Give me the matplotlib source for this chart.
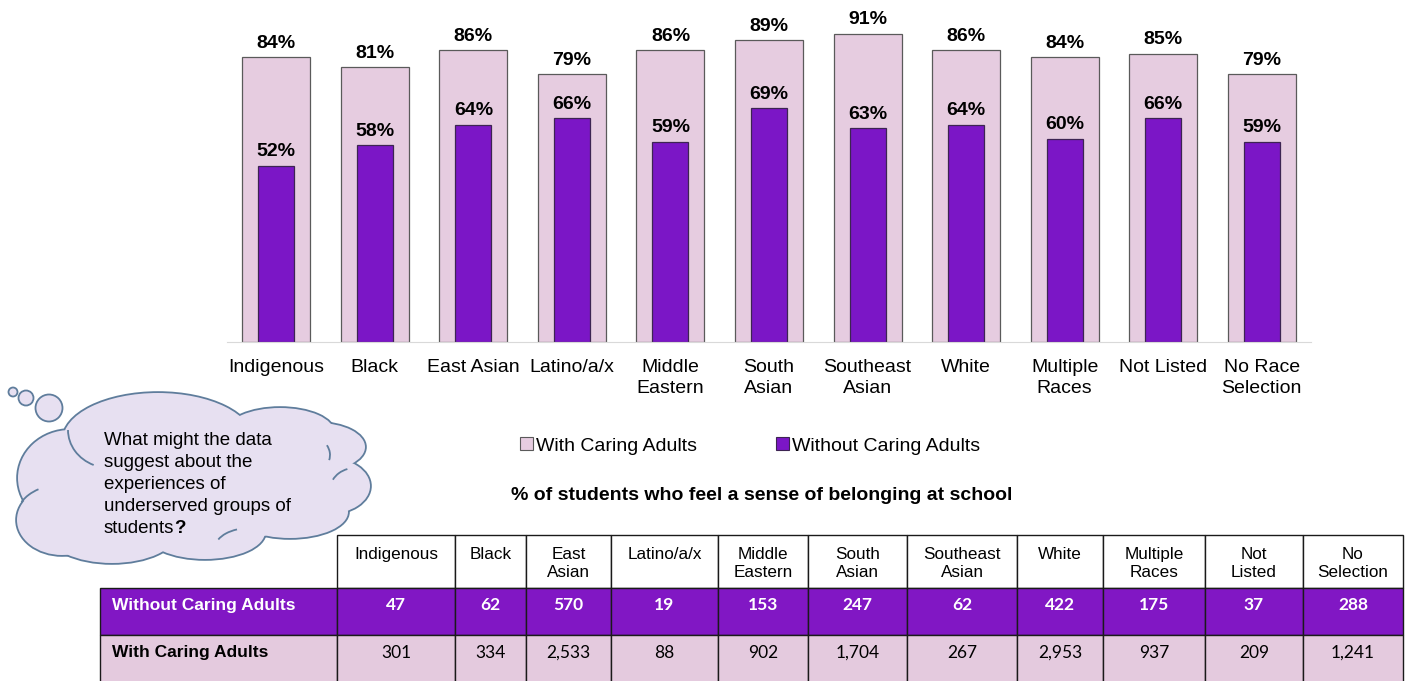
import matplotlib.pyplot as plt
import matplotlib.transforms as mtransforms
from matplotlib.patches import Ellipse, Circle, Arc, Patch

plt.rcParams['font.family'] = ['Liberation Sans', 'DejaVu Sans']

# share of students who feel they belong, by group (%)
groups = ['Indigenous', 'Black', 'East Asian', 'Latino/a/x', 'Middle\nEastern', 'South\nAsian',
          'Southeast\nAsian', 'White', 'Multiple\nRaces', 'Not Listed', 'No Race\nSelection']
with_adults = [84, 81, 86, 79, 86, 89, 91, 86, 84, 85, 79]
without_adults = [52, 58, 64, 66, 59, 69, 63, 64, 60, 66, 59]
legend_names = ['With Caring Adults', 'Without Caring Adults']
title = '% of students who feel a sense of belonging at school'

# respondent counts
table_groups = ['Indigenous', 'Black', 'East\nAsian', 'Latino/a/x', 'Middle\nEastern', 'South\nAsian',
                'Southeast\nAsian', 'White', 'Multiple\nRaces', 'Not\nListed', 'No\nSelection']
count_without = [47, 62, 570, 19, 153, 247, 62, 422, 175, 37, 288]
count_with = [301, 334, 2533, 88, 902, 1704, 267, 2953, 937, 209, 1241]
row_names = ['Without Caring Adults', 'With Caring Adults']

question = ['What might the data', 'suggest about the', 'experiences of',
            'underserved groups of', 'students']

PINK = '#E6CCE0'
PURPLE = '#7B16C6'
ROW_PURPLE = '#8117C4'
ROW_PINK = '#E4CADE'
CLOUD_FILL = '#E7E0F1'
CLOUD_EDGE = '#5F7D9C'

W, H = 1411, 681
fig = plt.figure(figsize=(W / 100, H / 100), dpi=100)

# pixel-unit layer for the thought bubble
bg = fig.add_axes([0, 0, 1, 1])
bg.set_xlim(0, W)
bg.set_ylim(H, 0)
bg.axis('off')

lobes = [(70, 478, 104, 96), (62, 520, 90, 70), (112, 532, 130, 62), (205, 532, 120, 54),
         (290, 512, 116, 52), (328, 486, 84, 56), (318, 447, 94, 48), (280, 432, 108, 48),
         (158, 440, 190, 94), (190, 485, 280, 120)]
folds = [((110, 430), 84, 76, 115, 180), ((355, 490), 50, 44, 205, 250),
         ((300, 455), 60, 44, 340, 10), ((250, 548), 70, 40, 195, 235),
         ((60, 520), 90, 70, 205, 235)]
bubbles = [(13, 392, 4.5), (26, 398, 7.5), (49, 408, 13.5)]

for cx, cy, w, h in lobes:
    bg.add_patch(Ellipse((cx, cy), w, h, fc=CLOUD_FILL, ec=CLOUD_EDGE, lw=2.6, zorder=1))
    bg.add_patch(Ellipse((cx, cy), w, h, fc=CLOUD_FILL, ec='none', zorder=2))
for c, w, h, t1, t2 in folds:
    bg.add_patch(Arc(c, w, h, theta1=t1, theta2=t2, color=CLOUD_EDGE, lw=1.3, zorder=3))
for cx, cy, r in bubbles:
    bg.add_patch(Circle((cx, cy), r, fc=CLOUD_FILL, ec=CLOUD_EDGE, lw=1.3, zorder=3))

last = None
for i, line in enumerate(question):
    last = bg.text(104, 445 + 22 * i, line, fontsize=13.5, va='baseline', ha='left', zorder=4)
bg.annotate('?', xy=(1, 0), xycoords=last, va='bottom', ha='left', fontsize=13.5,
            fontweight='bold', zorder=4)

# bar chart
ax = fig.add_axes([227 / W, 339 / H, 1084 / W, 339 / H])
ax.patch.set_alpha(0)
x = list(range(len(groups)))
ax.bar(x, with_adults, width=0.69, color=PINK, edgecolor='#5a5a5a', linewidth=0.9)
ax.bar(x, without_adults, width=0.365, color=PURPLE, edgecolor='#3d2452', linewidth=0.9)
for i, (a, b) in enumerate(zip(with_adults, without_adults)):
    ax.annotate(f'{a}%', (i, a), xytext=(0, 4), textcoords='offset points',
                ha='center', va='bottom', fontsize=14, fontweight='bold')
    ax.annotate(f'{b}%', (i, b), xytext=(0, 4), textcoords='offset points',
                ha='center', va='bottom', fontsize=14, fontweight='bold')
ax.set_xlim(-0.5, len(groups) - 0.5)
ax.set_ylim(0, 100)
ax.set_yticks([])
ax.set_xticks(x, groups, fontsize=14)
ax.tick_params(axis='x', length=0, pad=12)
for lbl in ax.get_xticklabels():
    lbl.set_linespacing(1.35)
for s in ['top', 'right', 'left']:
    ax.spines[s].set_visible(False)
ax.spines['bottom'].set_color('#d9d9d9')

handles = [Patch(fc=PINK, ec='#5a5a5a', lw=0.8), Patch(fc=PURPLE, ec='#3d2452', lw=0.8)]
fig.legend(handles, legend_names, loc='center', bbox_to_anchor=(750 / W, 1 - 446 / H), ncol=2,
           frameon=False, fontsize=14, handlelength=0.65, handleheight=0.65,
           handletextpad=0.15, columnspacing=4.1)
fig.text(762 / W, 1 - 496 / H, title, ha='center', va='center', fontsize=14, fontweight='bold')

# counts table
tax = fig.add_axes([100 / W, -1 / H, 1303 / W, 147 / H])
tax.axis('off')
col_widths = [237, 118, 71, 85, 107, 90, 99, 110, 86, 102, 98, 100]
header = [''] + [g if '\n' in g else g + '\n' for g in table_groups]
cells = [[row_names[0]] + [f'{v:,}' for v in count_without],
         [row_names[1]] + [f'{v:,}' for v in count_with]]
colours = [[ROW_PURPLE] * len(header), [ROW_PINK] * len(header)]
tbl = tax.table(cellText=cells, colLabels=header, colWidths=col_widths, cellColours=colours,
                cellLoc='center', bbox=[0, 0, 1, 1])
tbl.auto_set_font_size(False)
tbl.set_fontsize(12)
for (r, c), cell in tbl.get_celld().items():
    cell.set_linewidth(1.0)
    cell.set_edgecolor('#1a1a1a')
    txt = cell.get_text()
    if r == 0:
        cell.set_height(53)
        cell.set_facecolor('white')
        txt.set_fontsize(12.3)
        txt.set_transform(mtransforms.Affine2D().translate(0, -2))
        if c == 0:
            cell.set_visible(False)
        continue
    cell.set_height(47)
    txt.set_transform(mtransforms.Affine2D().translate(0, 6))
    if c == 0:
        txt.set_horizontalalignment('left')
        cell.PAD = 0.05
        txt.set_fontweight('bold')
        txt.set_fontsize(12.5)
    else:
        txt.set_fontfamily(['Lato', 'DejaVu Sans'])
        txt.set_fontsize(12.5)
        if r == 1:
            txt.set_fontweight('bold')
    if r == 1:
        txt.set_color('white')

fig.savefig('out.png', dpi=100)
